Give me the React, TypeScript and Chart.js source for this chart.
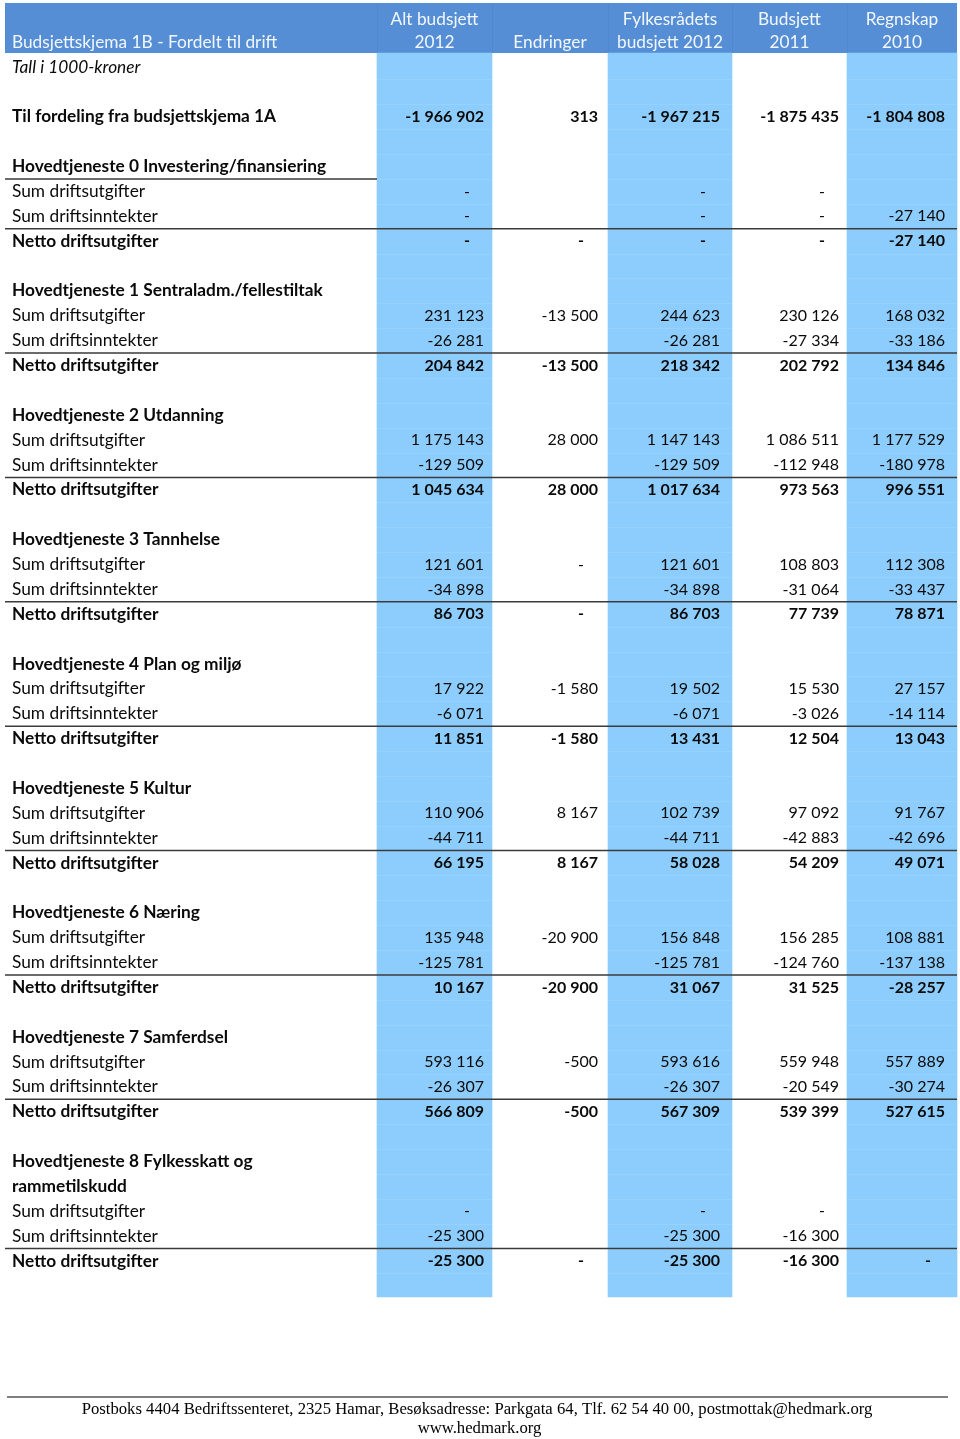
import React, { useEffect, useRef } from "react";
import { Chart, registerables } from "chart.js";

Chart.register(...registerables);

const N = null;

// Column headers (two lines each)
const columnHeaders: [string, string][] = [
  ["Alt budsjett", "2012"],
  ["", "Endringer"],
  ["Fylkesrådets", "budsjett 2012"],
  ["Budsjett", "2011"],
  ["Regnskap", "2010"],
];

const tableTitle = "Budsjettskjema 1B - Fordelt til drift";

const rowLabels: string[] = [
  "Tall i 1000-kroner",
  "",
  "Til fordeling fra budsjettskjema 1A",
  "",
  "Hovedtjeneste 0 Investering/finansiering",
  "Sum driftsutgifter",
  "Sum driftsinntekter",
  "Netto driftsutgifter",
  "",
  "Hovedtjeneste 1 Sentraladm./fellestiltak",
  "Sum driftsutgifter",
  "Sum driftsinntekter",
  "Netto driftsutgifter",
  "",
  "Hovedtjeneste 2 Utdanning",
  "Sum driftsutgifter",
  "Sum driftsinntekter",
  "Netto driftsutgifter",
  "",
  "Hovedtjeneste 3 Tannhelse",
  "Sum driftsutgifter",
  "Sum driftsinntekter",
  "Netto driftsutgifter",
  "",
  "Hovedtjeneste 4 Plan og miljø",
  "Sum driftsutgifter",
  "Sum driftsinntekter",
  "Netto driftsutgifter",
  "",
  "Hovedtjeneste 5 Kultur",
  "Sum driftsutgifter",
  "Sum driftsinntekter",
  "Netto driftsutgifter",
  "",
  "Hovedtjeneste 6 Næring",
  "Sum driftsutgifter",
  "Sum driftsinntekter",
  "Netto driftsutgifter",
  "",
  "Hovedtjeneste 7 Samferdsel",
  "Sum driftsutgifter",
  "Sum driftsinntekter",
  "Netto driftsutgifter",
  "",
  "Hovedtjeneste 8 Fylkesskatt og",
  "rammetilskudd",
  "Sum driftsutgifter",
  "Sum driftsinntekter",
  "Netto driftsutgifter",
];

// 0 is shown as "-", null is an empty cell
const altBudsjett2012: (number | null)[] = [
  N, N, -1966902, N,
  N, 0, 0, 0, N,
  N, 231123, -26281, 204842, N,
  N, 1175143, -129509, 1045634, N,
  N, 121601, -34898, 86703, N,
  N, 17922, -6071, 11851, N,
  N, 110906, -44711, 66195, N,
  N, 135948, -125781, 10167, N,
  N, 593116, -26307, 566809, N,
  N, N, 0, -25300, -25300,
];

const endringer: (number | null)[] = [
  N, N, 313, N,
  N, N, N, 0, N,
  N, -13500, N, -13500, N,
  N, 28000, N, 28000, N,
  N, 0, N, 0, N,
  N, -1580, N, -1580, N,
  N, 8167, N, 8167, N,
  N, -20900, N, -20900, N,
  N, -500, N, -500, N,
  N, N, N, N, 0,
];

const fylkesradetsBudsjett2012: (number | null)[] = [
  N, N, -1967215, N,
  N, 0, 0, 0, N,
  N, 244623, -26281, 218342, N,
  N, 1147143, -129509, 1017634, N,
  N, 121601, -34898, 86703, N,
  N, 19502, -6071, 13431, N,
  N, 102739, -44711, 58028, N,
  N, 156848, -125781, 31067, N,
  N, 593616, -26307, 567309, N,
  N, N, 0, -25300, -25300,
];

const budsjett2011: (number | null)[] = [
  N, N, -1875435, N,
  N, 0, 0, 0, N,
  N, 230126, -27334, 202792, N,
  N, 1086511, -112948, 973563, N,
  N, 108803, -31064, 77739, N,
  N, 15530, -3026, 12504, N,
  N, 97092, -42883, 54209, N,
  N, 156285, -124760, 31525, N,
  N, 559948, -20549, 539399, N,
  N, N, 0, -16300, -16300,
];

const regnskap2010: (number | null)[] = [
  N, N, -1804808, N,
  N, N, -27140, -27140, N,
  N, 168032, -33186, 134846, N,
  N, 1177529, -180978, 996551, N,
  N, 112308, -33437, 78871, N,
  N, 27157, -14114, 13043, N,
  N, 91767, -42696, 49071, N,
  N, 108881, -137138, -28257, N,
  N, 557889, -30274, 527615, N,
  N, N, N, N, 0,
];

const footerLines = [
  "Postboks 4404 Bedriftssenteret, 2325 Hamar, Besøksadresse: Parkgata 64, Tlf. 62 54 40 00, postmottak@hedmark.org",
  "www.hedmark.org",
];

const valueColumns = [altBudsjett2012, endringer, fylkesradetsBudsjett2012, budsjett2011, regnskap2010];

// ---- layout (pixels on x, row units on y) ----
const TABLE_LEFT = 5;
const TABLE_RIGHT = 957;
const LABEL_X = 12;
const COL_EDGES = [377, 492, 608, 732, 847, 957];
const COL_RIGHT_TEXT = [484, 598, 720, 839, 945];
const DASH_OFFSET = 17;
const SHADED = [0, 2, 4];

const ROW_PX = 24.875;
const ROW0_PX = 67;
const PAGE_H = 1439;
const Y_MIN = -ROW0_PX / ROW_PX;
const Y_MAX = Y_MIN + PAGE_H / ROW_PX;

const HEADER_TOP = (3 - ROW0_PX) / ROW_PX;
const HEADER_BOTTOM = (53 - ROW0_PX) / ROW_PX;
const HEADER_L1 = (19 - ROW0_PX) / ROW_PX;
const HEADER_L2 = (42 - ROW0_PX) / ROW_PX;
const SHADE_BOTTOM = (1297 - ROW0_PX) / ROW_PX;
const FOOTER_LINE = (1397 - ROW0_PX) / ROW_PX;
const FOOTER_T1 = (1410 - ROW0_PX) / ROW_PX;
const FOOTER_T2 = (1429 - ROW0_PX) / ROW_PX;

const HEADER_BG = "#558ed5";
const HEADER_FG = "#f2f7fd";
const SHADE_BG = "#8dcdfd";
const TEXT = "#0a0a0a";
const FONT = "Lato, 'Open Sans', sans-serif";
const SERIF = "'Liberation Serif', 'DejaVu Serif', serif";
const LABEL_SIZE = 17.3;
const NUM_SIZE = 16;
const FOOT_SIZE = 16.7;

function fmt(v: number): string {
  if (v === 0) return "-";
  const s = Math.abs(v).toString();
  const parts: string[] = [];
  for (let i = s.length; i > 0; i -= 3) parts.unshift(s.substring(Math.max(0, i - 3), i));
  return (v < 0 ? "-" : "") + parts.join(" ");
}

function kindOf(label: string, i: number): string {
  if (i === 0) return "note";
  if (label === "") return "blank";
  if (label.startsWith("Netto")) return "netto";
  if (label.startsWith("Sum")) return "item";
  return "bold";
}

const tablePlugin = {
  id: "budgetTable",
  beforeDatasetsDraw(chart: any) {
    const { ctx } = chart;
    const x = chart.scales.x;
    const y = chart.scales.y;
    ctx.save();
    const l = x.getPixelForValue(TABLE_LEFT);
    const r = x.getPixelForValue(TABLE_RIGHT);
    const t = y.getPixelForValue(HEADER_TOP);
    const b = y.getPixelForValue(HEADER_BOTTOM);
    ctx.fillStyle = HEADER_BG;
    ctx.fillRect(l, t, r - l, b - t);
    ctx.strokeStyle = "#4f87d0";
    ctx.lineWidth = 1;
    for (let i = 0; i < COL_EDGES.length - 1; i++) {
      const px = Math.round(x.getPixelForValue(COL_EDGES[i])) + 0.5;
      ctx.beginPath();
      ctx.moveTo(px, t);
      ctx.lineTo(px, b);
      ctx.stroke();
    }
    ctx.restore();
  },
  afterDatasetsDraw(chart: any) {
    const { ctx } = chart;
    const x = chart.scales.x;
    const y = chart.scales.y;
    ctx.save();

    // faint row lines inside shaded columns
    ctx.strokeStyle = "#97d2fe";
    ctx.lineWidth = 1;
    for (let i = 0; i < rowLabels.length; i++) {
      const py = Math.round(y.getPixelForValue(i + 0.5)) + 0.5;
      for (const c of SHADED) {
        ctx.beginPath();
        ctx.moveTo(x.getPixelForValue(COL_EDGES[c]), py);
        ctx.lineTo(x.getPixelForValue(COL_EDGES[c + 1]), py);
        ctx.stroke();
      }
    }

    // header text
    ctx.fillStyle = HEADER_FG;
    ctx.textBaseline = "middle";
    ctx.font = `${LABEL_SIZE}px ${FONT}`;
    ctx.textAlign = "left";
    ctx.fillText(tableTitle, x.getPixelForValue(LABEL_X), y.getPixelForValue(HEADER_L2));
    ctx.textAlign = "center";
    columnHeaders.forEach((h, c) => {
      const cx = x.getPixelForValue((COL_EDGES[c] + COL_EDGES[c + 1]) / 2);
      if (h[0]) ctx.fillText(h[0], cx, y.getPixelForValue(HEADER_L1));
      ctx.fillText(h[1], cx, y.getPixelForValue(HEADER_L2));
    });

    // rows
    ctx.fillStyle = TEXT;
    rowLabels.forEach((label, i) => {
      const kind = kindOf(label, i);
      if (kind === "blank") return;
      const py = y.getPixelForValue(i);
      const bold = kind === "bold" || kind === "netto";
      const style = `${kind === "note" ? "italic " : ""}${bold ? "bold " : ""}`;
      ctx.font = `${style}${LABEL_SIZE}px ${FONT}`;
      ctx.textAlign = "left";
      ctx.fillText(label, x.getPixelForValue(LABEL_X), py);
      ctx.font = `${style}${NUM_SIZE}px ${FONT}`;
      valueColumns.forEach((col, c) => {
        const v = col[i];
        if (v === null || v === undefined) return;
        const right = x.getPixelForValue(COL_RIGHT_TEXT[c]);
        if (v === 0) {
          ctx.textAlign = "center";
          ctx.fillText("-", right - DASH_OFFSET, py);
        } else {
          ctx.textAlign = "right";
          ctx.fillText(fmt(v), right, py);
        }
      });
    });

    // separator lines
    ctx.strokeStyle = "#3a3a3a";
    ctx.lineWidth = 1.5;
    rowLabels.forEach((label, i) => {
      const kind = kindOf(label, i);
      if (kind === "netto") {
        const py = y.getPixelForValue(i - 0.5);
        ctx.beginPath();
        ctx.moveTo(x.getPixelForValue(TABLE_LEFT), py);
        ctx.lineTo(x.getPixelForValue(TABLE_RIGHT), py);
        ctx.stroke();
      }
    });
    // underline below first main service heading
    {
      const py = y.getPixelForValue(4.5);
      ctx.beginPath();
      ctx.moveTo(x.getPixelForValue(TABLE_LEFT), py);
      ctx.lineTo(x.getPixelForValue(COL_EDGES[0]), py);
      ctx.stroke();
    }

    // footer
    ctx.strokeStyle = "#555";
    ctx.lineWidth = 1.5;
    const fy = y.getPixelForValue(FOOTER_LINE);
    ctx.beginPath();
    ctx.moveTo(x.getPixelForValue(7), fy);
    ctx.lineTo(x.getPixelForValue(948), fy);
    ctx.stroke();
    ctx.fillStyle = "#000";
    ctx.font = `${FOOT_SIZE}px ${SERIF}`;
    ctx.textAlign = "center";
    ctx.fillText(footerLines[0], x.getPixelForValue(477), y.getPixelForValue(FOOTER_T1));
    ctx.fillText(footerLines[1], x.getPixelForValue(479.5), y.getPixelForValue(FOOTER_T2));

    ctx.restore();
  },
};

export default function App() {
  const ref = useRef<HTMLCanvasElement | null>(null);
  useEffect(() => {
    if (!ref.current) return;
    const shadeData = SHADED.map((c) => ({
      x: (COL_EDGES[c] + COL_EDGES[c + 1]) / 2,
      y: [HEADER_BOTTOM, SHADE_BOTTOM],
    }));
    const chart = new Chart(ref.current, {
      type: "bar",
      data: {
        datasets: SHADED.map((c, k) => ({
          label: columnHeaders[c].join(" ").trim(),
          data: [shadeData[k]] as any,
          backgroundColor: SHADE_BG,
          borderWidth: 0,
          barThickness: COL_EDGES[c + 1] - COL_EDGES[c],
          grouped: false,
        })) as any,
      },
      options: {
        animation: false,
        responsive: false,
        events: [],
        layout: { padding: 0 },
        plugins: { legend: { display: false }, tooltip: { enabled: false } },
        scales: {
          x: { type: "linear", display: false, offset: false, min: 0, max: 960 },
          y: { type: "linear", display: false, offset: false, min: Y_MIN, max: Y_MAX, reverse: true },
        },
      },
      plugins: [tablePlugin],
    });
    return () => chart.destroy();
  }, []);
  return (
    <div style={{ position: "absolute", left: 0, top: 0, width: 960, height: PAGE_H, background: "#fff" }}>
      <canvas ref={ref} width={960} height={PAGE_H} />
    </div>
  );
}
